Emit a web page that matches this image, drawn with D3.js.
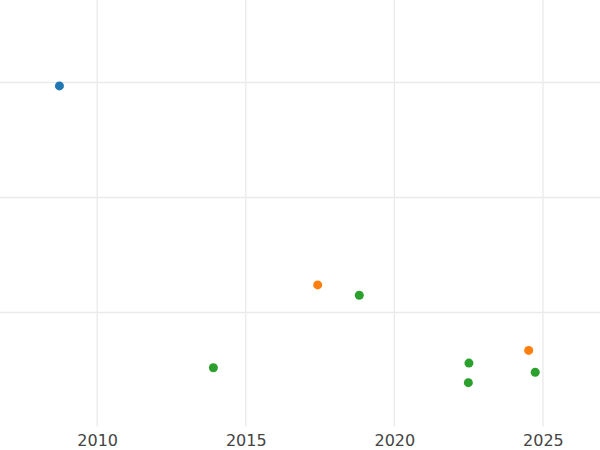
<!DOCTYPE html>
<html>
<head>
<meta charset="utf-8">
<script src="https://cdn.jsdelivr.net/npm/d3@7"></script>
<style>
  html, body { margin: 0; padding: 0; background: #fff; }
  svg { display: block; }
</style>
</head>
<body>
<svg id="chart" width="600" height="450"></svg>
<script>
// Data
const years  = [2008.73, 2017.42, 2018.82, 2013.91, 2022.51, 2022.49, 2024.52, 2024.74];
const values = [2.97, 1.24, 1.15, 0.52, 0.56, 0.39, 0.67, 0.48];
const groups = ["A", "B", "C", "C", "C", "C", "B", "C"];
const groupNames = ["A", "B", "C"];
const groupColors = ["#1f77b4", "#ff7f0e", "#2ca02c"];
const xTicks = [2010, 2015, 2020, 2025];
const yTicks = [1, 2, 3];

const W = 600, H = 450;
const plot = { left: 0, right: 600, top: 0, bottom: 427.5, gridBottom: 426.5 };

const svg = d3.select("#chart");

const x = d3.scaleLinear().domain([2006.73, 2026.92]).range([plot.left, plot.right]);
const y = d3.scaleLinear().domain([0, 3.717]).range([plot.bottom, plot.top]);
const color = d3.scaleOrdinal().domain(groupNames).range(groupColors);

// Grid
const grid = svg.append("g");
grid.selectAll("line.h").data(yTicks).join("line")
  .attr("class", "h")
  .attr("x1", plot.left).attr("x2", plot.right)
  .attr("y1", d => y(d)).attr("y2", d => y(d))
  .attr("stroke", "#ebebeb").attr("stroke-width", 1.4);
grid.selectAll("line.v").data(xTicks).join("line")
  .attr("class", "v")
  .attr("y1", plot.top).attr("y2", plot.gridBottom)
  .attr("x1", d => x(d)).attr("x2", d => x(d))
  .attr("stroke", "#ebebeb").attr("stroke-width", 1.4);

// X axis (labels only)
const xAxis = d3.axisBottom(x).tickValues(xTicks).tickFormat(d3.format("d")).tickSize(0).tickPadding(8);
const gx = svg.append("g").attr("transform", `translate(0,${plot.gridBottom})`).call(xAxis);
gx.select(".domain").remove();
gx.selectAll("text")
  .attr("font-family", "DejaVu Sans, sans-serif")
  .attr("font-size", 16)
  .attr("fill", "#444");

// Points
const pts = years.map((yr, i) => ({ x: yr, y: values[i], g: groups[i] }));
svg.append("g").selectAll("circle").data(pts).join("circle")
  .attr("cx", d => x(d.x))
  .attr("cy", d => y(d.y))
  .attr("r", 4.5)
  .attr("fill", d => color(d.g));
</script>
</body>
</html>
